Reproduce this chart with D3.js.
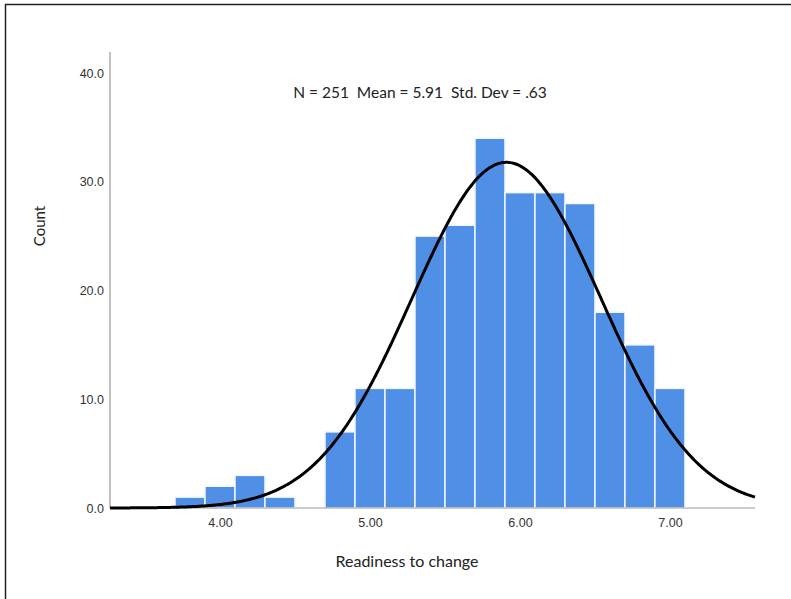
<!DOCTYPE html>
<html>
<head>
<meta charset="utf-8">
<script src="https://cdn.jsdelivr.net/npm/d3@7"></script>
<style>
  html, body { margin: 0; padding: 0; background: #fff; }
  svg { display: block; }
  .pre { white-space: pre; }
</style>
</head>
<body>
<svg id="chart" width="791" height="599"></svg>
<script>
// ---- data ----
const binStarts = [3.7, 3.9, 4.1, 4.3, 4.5, 4.7, 4.9, 5.1, 5.3, 5.5, 5.7, 5.9, 6.1, 6.3, 6.5, 6.7, 6.9];
const binCounts = [1, 2, 3, 1, 0, 7, 11, 11, 25, 26, 34, 29, 29, 28, 18, 15, 11];
const binWidth = 0.2;
const xTicks = [4.0, 5.0, 6.0, 7.0];
const yTicks = [0, 10, 20, 30, 40];
const statN = 251, statMean = 5.91, statSD = 0.63;
const xTitle = "Readiness to change";
const yTitle = "Count";
const statLabel = "N = 251  Mean = 5.91  Std. Dev = .63";

// ---- layout ----
const svg = d3.select("#chart");
const x = d3.scaleLinear().domain([3.2667, 7.567]).range([110, 755]);
const y = d3.scaleLinear().domain([0, 40]).range([508, 73]);

// outer frame
svg.append("rect").attr("x", 5.5).attr("y", 4.5).attr("width", 800).attr("height", 620)
  .attr("fill", "none").attr("stroke", "#222").attr("stroke-width", 1.5);

// bars
svg.append("g").selectAll("rect")
  .data(binStarts.map((s, i) => ({ s, c: binCounts[i] })).filter(d => d.c > 0))
  .join("rect")
  .attr("x", d => x(d.s))
  .attr("y", d => y(d.c))
  .attr("width", d => x(d.s + binWidth) - x(d.s))
  .attr("height", d => y(0) - y(d.c))
  .attr("fill", "#4f8fe6")
  .attr("stroke", "#f2f7ff")
  .attr("stroke-width", 1.5);

// axes
const tickFont = "'Liberation Sans', Arial, sans-serif";
const yAxis = d3.axisLeft(y).tickValues(yTicks).tickFormat(d3.format(".1f")).tickSize(0).tickPadding(6);
const gy = svg.append("g").attr("transform", "translate(110,0)").call(yAxis);
gy.select(".domain").attr("d", "M0,52V508").attr("stroke", "#999").attr("stroke-width", 1.2);
gy.selectAll("text").attr("fill", "#333").style("font-family", tickFont).style("font-size", "12.5px");

const xAxis = d3.axisBottom(x).tickValues(xTicks).tickFormat(d3.format(".2f")).tickSize(0).tickPadding(10);
const gx = svg.append("g").attr("transform", "translate(0,508)").call(xAxis);
gx.select(".domain").attr("d", "M110,0H755").attr("stroke", "#999").attr("stroke-width", 1.2);
gx.selectAll("text").attr("fill", "#333").style("font-family", tickFont).style("font-size", "12.5px");

// normal curve
const scale = statN * binWidth;
const pdf = v => scale * Math.exp(-0.5 * Math.pow((v - statMean) / statSD, 2)) / (statSD * Math.sqrt(2 * Math.PI));
const xs = d3.range(x.domain()[0], x.domain()[1] + 1e-9, 0.01);
svg.append("path")
  .datum(xs)
  .attr("d", d3.line().x(v => x(v)).y(v => y(pdf(v))).curve(d3.curveBasis))
  .attr("fill", "none").attr("stroke", "#000").attr("stroke-width", 3);

// texts
const labFont = "Lato, 'Open Sans', sans-serif";
svg.append("text").attr("class", "pre").attr("x", 420).attr("y", 98).attr("text-anchor", "middle")
  .attr("font-family", labFont).attr("font-size", 15.5).attr("fill", "#222").text(statLabel);
svg.append("text").attr("x", 407).attr("y", 567).attr("text-anchor", "middle")
  .attr("font-family", labFont).attr("font-size", 16).attr("fill", "#222").text(xTitle);
svg.append("text").attr("transform", "translate(45,226) rotate(-90)").attr("text-anchor", "middle")
  .attr("font-family", labFont).attr("font-size", 15).attr("fill", "#222").text(yTitle);
</script>
</body>
</html>
